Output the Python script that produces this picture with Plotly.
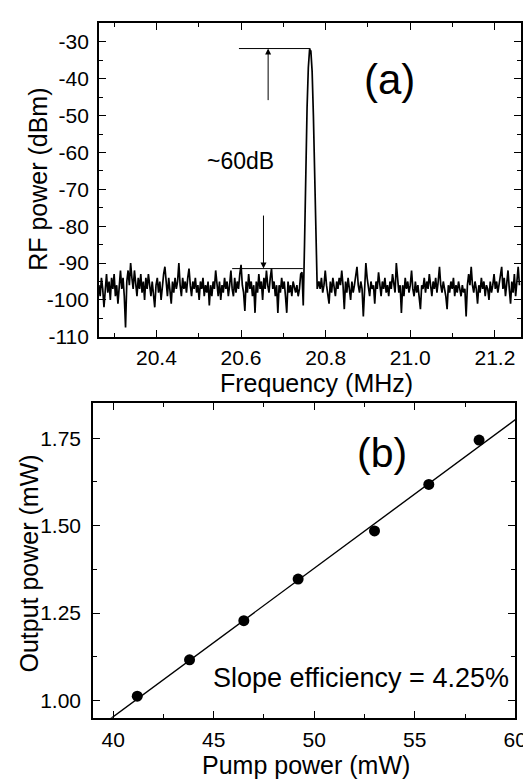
import plotly.graph_objects as go

W, H = 531, 780

# ---------------- (a) RF spectrum data ----------------
f_step = 0.003
f_left_start = 20.264
rf_left = [
    -96, -99, -94, -97, -102, -96, -93, -98, -95, -100,
    -94, -97, -93, -99, -96, -101, -95, -92, -97, -94,
    -99, -107.5, -95, -92, -96, -90, -94, -97, -92, -96,
    -99, -94, -97, -93, -98, -95, -100, -94, -97, -93,
    -96, -99, -95, -98, -102, -96, -94, -98, -95, -100,
    -96, -93, -91, -96, -99, -94, -97, -101, -95, -98,
    -94, -97, -95, -90, -96, -99, -94, -97, -95, -98,
    -94, -91.5, -96, -99, -95, -97, -94, -98, -96, -100,
    -95, -97, -94, -99, -96, -98, -95, -101.5, -96, -99,
    -95, -97, -92, -96, -99, -95, -100, -96, -98, -94,
    -97, -95, -99, -96, -92, -97, -99, -94, -98, -95,
    -97, -93, -90.5, -96, -98, -103, -95, -98, -93, -97,
    -95, -99, -96, -103.5, -95, -98, -93, -97, -95, -100,
    -94, -97, -92, -96, -98, -94, -91.5, -97, -95, -99,
    -96, -103.5, -96, -98, -94, -97, -95, -99, -103.5, -95,
    -98, -96, -99, -95, -97, -98, -96, -99, -97, -93,
    -92.5,
]
peak_f = [20.747, 20.750, 20.753, 20.756, 20.759, 20.762, 20.765, 20.768,
          20.771, 20.774, 20.777, 20.780]
peak_rf = [-101.5, -85, -65, -48, -37, -32, -32.5, -38, -50, -68, -86, -97]
f_right_start = 20.784
rf_right = [
    -95, -97, -94, -98, -96, -92, -96, -98, -101, -95,
    -98, -94, -97, -99, -95, -97, -94, -96, -92, -96,
    -102.5, -95, -98, -94, -97, -100, -95, -98, -96, -94,
    -91, -96, -98, -95, -97, -104.5, -95, -90, -94, -97,
    -99, -95, -97, -96, -101, -95, -97, -92.5, -96, -99,
    -95, -97, -94, -98, -96, -99, -95, -97, -93, -96,
    -98, -90, -95, -98, -96, -103.5, -96, -99, -94, -97,
    -95, -98, -96, -92, -97, -99, -95, -98, -96, -99,
    -102.5, -96, -97, -94, -98, -95, -97, -93, -96, -99,
    -95, -97, -94, -98, -95, -91, -96, -98, -95, -97,
    -99, -102.5, -96, -98, -95, -97, -94, -99, -96, -98,
    -95, -97, -99, -96, -98, -97, -104.5, -96, -93, -96,
    -91, -96, -98, -95, -97, -101, -96, -98, -94, -97,
    -95, -99, -96, -97, -100, -95, -98, -96, -93, -97,
    -95, -98, -96, -94, -91, -97, -94, -99, -96, -92,
    -97, -101, -95, -98, -93, -99, -95, -91, -96,
]
f_left = [round(f_left_start + f_step * i, 3) for i in range(len(rf_left))]
f_right = [round(f_right_start + f_step * i, 3) for i in range(len(rf_right))]
freq = f_left + peak_f + f_right
rf = rf_left + peak_rf + rf_right

freq_ticks = [20.4, 20.6, 20.8, 21.0, 21.2]
freq_ticktext = ["20.4", "20.6", "20.8", "21.0", "21.2"]
rf_ticks = [-110, -100, -90, -80, -70, -60, -50, -40, -30]
rf_ticktext = ["-110", "-100", "-90", "-80", "-70", "-60", "-50", "-40", "-30"]

# marker lines for the ~60 dB annotation
peak_level, floor_level = -31.8, -91.5
top_line_f = [20.595, 20.764]
bot_line_f = [20.579, 20.746]
up_arrow = (20.664, -46.2)
down_arrow = (20.653, -76.7)

# ---------------- (b) slope efficiency data ----------------
pump = [41.2, 43.8, 46.5, 49.2, 53.0, 55.7, 58.2]
output = [1.012, 1.116, 1.228, 1.347, 1.485, 1.618, 1.745]
fit_x = [39.0, 61.0]
fit_y = [0.9105, 1.8455]

pump_ticks = [40, 45, 50, 55, 60]
out_ticks = [1.00, 1.25, 1.50, 1.75]
out_ticktext = ["1.00", "1.25", "1.50", "1.75"]

FONT = "Liberation Sans, Arial, sans-serif"
BLACK = "black"
TICKFONT = 21


def px_x(px):
    return px / W


def px_y(py):
    return 1 - py / H


fig = go.Figure()
fig.add_trace(go.Scatter(x=freq, y=rf, mode="lines",
                         line=dict(color=BLACK, width=1.7),
                         xaxis="x", yaxis="y", showlegend=False))
fig.add_trace(go.Scatter(x=fit_x, y=fit_y, mode="lines",
                         line=dict(color=BLACK, width=1.4),
                         xaxis="x2", yaxis="y2", showlegend=False))
fig.add_trace(go.Scatter(x=pump, y=output, mode="markers",
                         marker=dict(color=BLACK, size=11),
                         xaxis="x2", yaxis="y2", showlegend=False))

axis_common = dict(showline=True, linecolor=BLACK, linewidth=1.6, mirror="allticks",
                   ticks="inside", ticklen=7, tickwidth=1.3, tickcolor=BLACK,
                   showgrid=False, zeroline=False,
                   tickfont=dict(family=FONT, size=TICKFONT, color=BLACK))

fig.update_layout(
    width=W, height=H,
    margin=dict(l=0, r=0, t=0, b=0),
    paper_bgcolor="white", plot_bgcolor="white",
    font=dict(family=FONT, color=BLACK),
    xaxis=dict(domain=[px_x(93), px_x(525)], range=[20.264, 21.262], anchor="y",
               tickmode="array", tickvals=freq_ticks, ticktext=freq_ticktext,
               minor=dict(tickmode="linear", tick0=20.3, dtick=0.1, ticklen=4,
                          tickwidth=1.3, ticks="inside", tickcolor=BLACK),
               ticklabelstandoff=1,
               **axis_common),
    yaxis=dict(domain=[px_y(333.5), px_y(15.7)], range=[-110, -25], anchor="x",
               tickmode="array", tickvals=rf_ticks, ticktext=rf_ticktext,
               minor=dict(tickmode="linear", tick0=-105, dtick=10, ticklen=4,
                          tickwidth=1.3, ticks="inside", tickcolor=BLACK),
               ticklabelstandoff=4,
               **axis_common),
    xaxis2=dict(domain=[px_x(87), px_x(519)], range=[39, 60], anchor="y2",
                tickmode="array", tickvals=pump_ticks,
                minor=dict(tickmode="linear", tick0=37.5, dtick=5, ticklen=4,
                           tickwidth=1.3, ticks="inside", tickcolor=BLACK),
                ticklabelstandoff=2,
                **axis_common),
    yaxis2=dict(domain=[px_y(720), px_y(401)], range=[0.95, 1.85], anchor="x2",
                tickmode="array", tickvals=out_ticks, ticktext=out_ticktext,
                minor=dict(tickmode="linear", tick0=0.875, dtick=0.25, ticklen=4,
                           tickwidth=1.3, ticks="inside", tickcolor=BLACK),
                ticklabelstandoff=6,
                **axis_common),
)

# horizontal reference lines
fig.add_shape(type="line", xref="x", yref="y", x0=top_line_f[0], x1=top_line_f[1],
              y0=peak_level, y1=peak_level, line=dict(color=BLACK, width=1))
fig.add_shape(type="line", xref="x", yref="y", x0=bot_line_f[0], x1=bot_line_f[1],
              y0=floor_level, y1=floor_level, line=dict(color=BLACK, width=1))

annotations = []
annotations.append(dict(x=up_arrow[0], y=peak_level, ax=up_arrow[0], ay=up_arrow[1],
                        xref="x", yref="y", axref="x", ayref="y", showarrow=True,
                        arrowhead=2, arrowsize=1.2, arrowwidth=1, arrowcolor=BLACK,
                        standoff=0, text=""))
annotations.append(dict(x=down_arrow[0], y=floor_level, ax=down_arrow[0], ay=down_arrow[1],
                        xref="x", yref="y", axref="x", ayref="y", showarrow=True,
                        arrowhead=2, arrowsize=1.2, arrowwidth=1, arrowcolor=BLACK,
                        standoff=0, text=""))


def txt(text, x, y, size, angle=0):
    return dict(text=text, x=px_x(x), y=px_y(y), xref="paper", yref="paper",
                showarrow=False, xanchor="center", yanchor="middle", textangle=angle,
                font=dict(family=FONT, size=size, color=BLACK))


annotations += [
    txt("(a)", 390, 73, 42),
    txt("~60dB", 238, 155, 23),
    txt("(b)", 383, 451, 41),
    txt("Slope efficiency = 4.25%", 361, 680, 27),
    txt("RF power (dBm)", 30, 174, 25, -90),
    txt("Frequency (MHz)", 316, 380, 25),
    txt("Output power (mW)", 22, 564, 25, -90),
    txt("Pump power (mW)", 305, 768, 25),
]
fig.update_layout(annotations=annotations)

fig.write_html("out.html")
